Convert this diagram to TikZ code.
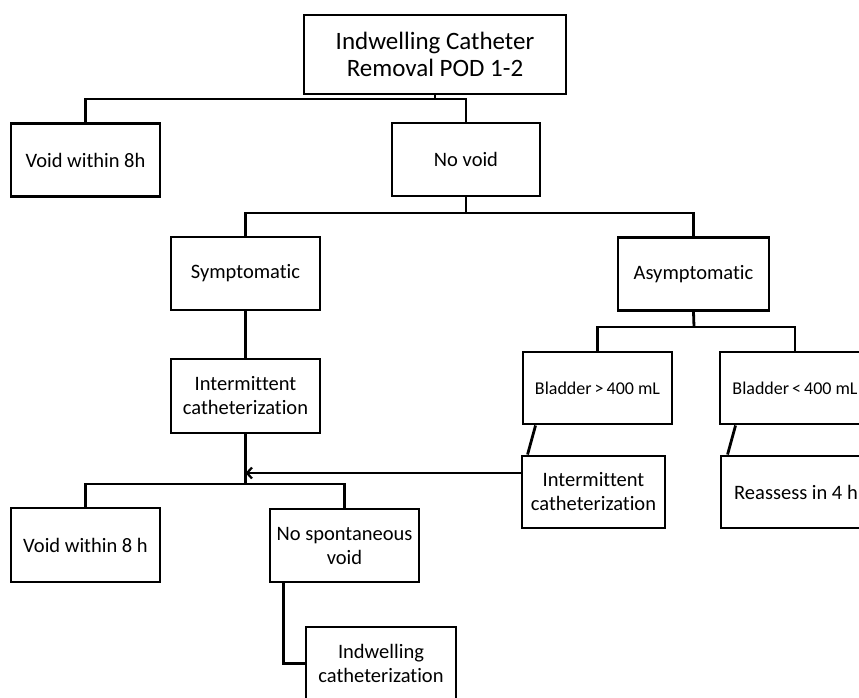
\documentclass[tikz,border=0pt]{standalone}
\usepackage{fontspec}
\setmainfont{Carlito}[Ligatures=NoCommon]
\usetikzlibrary{arrows.meta}
\begin{document}
\begin{tikzpicture}[x=1pt,y=-1pt,
  box/.style={draw=black,line width=2.9pt,align=center,inner sep=0pt,
    minimum width=149pt,minimum height=73pt,font=\fontsize{20.5}{24}\selectfont},
  small/.style={font=\fontsize{18}{21}\selectfont},
  conn/.style={line width=2.8pt,line join=miter}]
\useasboundingbox (0,0) rectangle (859,698);
\clip (0,0) rectangle (859,698);
\node[box,minimum width=262pt,minimum height=79pt,font=\fontsize{25}{27.5}\selectfont] (top) at (435,54.5) {Indwelling Catheter\\Removal POD 1-2};
\node[box] (v1) at (85.5,160) {Void within 8h};
\node[box,minimum width=148pt] (nv) at (466,159.5) {No void};
\node[box] (sym) at (245.5,273.5) {Symptomatic};
\node[box,minimum width=151pt] (asym) at (693.5,274) {Asymptomatic};
\node[box,small,minimum height=72pt] (b1) at (597.5,388) {Bladder\,>\,400 mL};
\node[box,small,minimum width=150pt,minimum height=72pt] (b2) at (795,388) {Bladder\,<\,400 mL};
\node[box,minimum width=143pt,minimum height=72pt] (ic2) at (593.5,492) {Intermittent\\catheterization};
\node[box,minimum width=150pt,minimum height=72pt] (re) at (796,492) {Reassess in 4 h};
\node[box,minimum height=74pt] (ic1) at (245.5,396) {Intermittent\\catheterization};
\node[box,minimum height=74pt] (v2) at (85.5,545) {Void within 8 h};
\node[box] (nsv) at (344.5,545.5) {No spontaneous\\void};
\node[box,minimum width=150pt] (ind) at (381,663.5) {Indwelling\\catheterization};
\coordinate (j1) at (435,99);
\coordinate (j2) at (466,213);
\coordinate (j3) at (694,327);
\coordinate (arr) at (245.5,473);
\coordinate (j4) at (245.5,484);
\draw[conn] (top.south) -- (j1);
\draw[conn] (v1.north) |- (j1) -| (nv.north);
\draw[conn] (nv.south) -- (j2);
\draw[conn] (sym.north) |- (j2) -| (asym.north);
\draw[conn] (asym.south) -- (j3);
\draw[conn] (b1.north) |- (j3) -| (b2.north);
\draw[conn] ([xshift=14pt]b1.south west) -- ([xshift=7pt]ic2.north west);
\draw[conn] ([xshift=17pt]b2.south west) -- ([xshift=8pt]re.north west);
\draw[conn] (sym.south) -- (ic1.north);
\draw[conn] (ic1.south) -- (j4);
\draw[conn,-{Straight Barb[length=5pt,width=11pt,line width=2.2pt]}] (arr -| ic2.west) -- (arr);
\draw[conn] (v2.north) |- (j4) -| (nsv.north);
\draw[conn] ([xshift=15pt]nsv.south west) |- (ind.west);
\end{tikzpicture}
\end{document}
